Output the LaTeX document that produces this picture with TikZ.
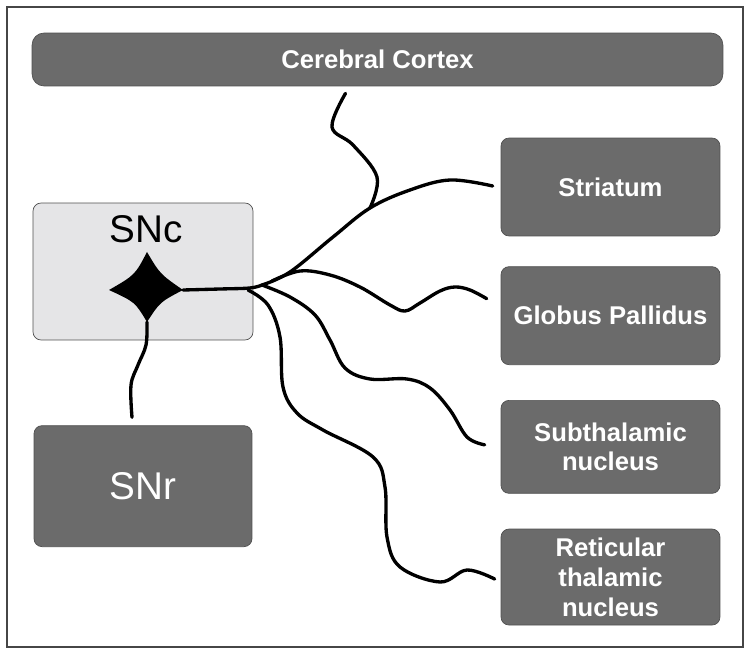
\documentclass[tikz,border=0pt]{standalone}
\usepackage{fontspec}
\setmainfont{Liberation Sans}
\usetikzlibrary{positioning}
\definecolor{boxColor}{RGB}{107,107,107}
\definecolor{boxEdge}{RGB}{80,80,80}
\definecolor{somaBoxColor}{RGB}{229,229,231}
\definecolor{frameColor}{RGB}{70,70,70}
\tikzstyle{diagram} = [x = 0.02cm, y = -0.02cm]
\tikzstyle{regionBox} = [draw=boxEdge, fill=boxColor, rounded corners = .16cm, text=white, font=\bfseries\fontsize{14.6}{17}\selectfont, align=center, minimum width=4.38cm, inner sep=0pt]
\tikzstyle{somaBox} = [draw=boxEdge, fill=somaBoxColor, rounded corners = .16cm, minimum width=4.4cm, minimum height=2.74cm, inner sep=0pt]
\tikzstyle{bigText} = [font=\fontsize{22}{24}\selectfont]
\tikzstyle{fiber} = [line width=1.9pt, line cap=round, line join=round]
\newcommand{\fiberPath}[1]{\draw [fiber] plot [smooth, tension=.6] coordinates {#1};}

\begin{document}
\begin{tikzpicture}[diagram]
  \useasboundingbox (0,0) rectangle (751,655);
  \draw [frameColor, line width=.6pt] (7,7) rectangle (743,647);

  % regions
  \node [regionBox, minimum width=13.82cm, minimum height=1.06cm, rounded corners=.24cm] (cortex) at (377.5,59.5) {Cerebral Cortex};
  \node [somaBox] (snc) at (143,271.5) {};
  \node [bigText] (sncText) at (146,229) {SNc};
  \node [regionBox, bigText, minimum width=4.36cm, minimum height=2.42cm, below = 1.7cm of snc] (snr) {SNr};
  \node [regionBox, minimum height=1.96cm] (striatum) at (610.5,187) {Striatum};
  \node [regionBox, minimum height=1.96cm, below = .6cm of striatum] (pallidus) {Globus Pallidus};
  \node [regionBox, minimum height=1.86cm, below = .7cm of pallidus] (subthalamic) {Subthalamic\\nucleus};
  \node [regionBox, minimum height=1.92cm, below = .7cm of subthalamic] (reticular) {Reticular\\thalamic\\nucleus};

  % neuron
  \coordinate (somaRight) at (183,290);
  \coordinate (somaBottom) at (147,322);
  \fill (147,252) .. controls (160,274) .. (somaRight) .. controls (160,302) .. (somaBottom) .. controls (135,302) .. (109,290) .. controls (135,275) .. (147,252);

  \coordinate (fork) at (262,285);
  \coordinate (striatumJoin) at (370,208);
  \coordinate (cortexOut) at ([shift={(-32,7)}]cortex.south);
  \coordinate (snrOut) at ([shift={(-11,-8)}]snr.north);
  \coordinate (striatumIn) at ([shift={(-8,-1)}]striatum.west);
  \coordinate (pallidusIn) at ([shift={(-14,-17)}]pallidus.west);
  \coordinate (subthalamicIn) at ([shift={(-16,-2)}]subthalamic.west);
  \coordinate (reticularIn) at ([shift={(-6,2)}]reticular.west);

  % fibers
  \fiberPath{(somaRight) (220,289) (250,288) (fork)}
  \fiberPath{(fork) (290,272) (333,237) (striatumJoin) (410,190) (450,180) (striatumIn)}
  \fiberPath{(cortexOut) (332,127) (353,145) (377,177) (striatumJoin)}
  \fiberPath{(272,281) (300,271) (330,275) (360,287) (390,305) (405,311) (420,303) (440,291) (455,287) (470,290) (pallidusIn)}
  \fiberPath{(fork) (290,297) (315,315) (330,340) (345,368) (370,379) (407,379) (430,388) (450,410) (467,437) (subthalamicIn)}
  \fiberPath{(248,290) (268,305) (280,337) (283,387) (297,413) (323,430) (373,457) (385,487) (387,537) (400,567) (440,582) (467,570) (reticularIn)}
  \fiberPath{(somaBottom) (146,345) (138,365) (131,385) (snrOut)}
\end{tikzpicture}
\end{document}
